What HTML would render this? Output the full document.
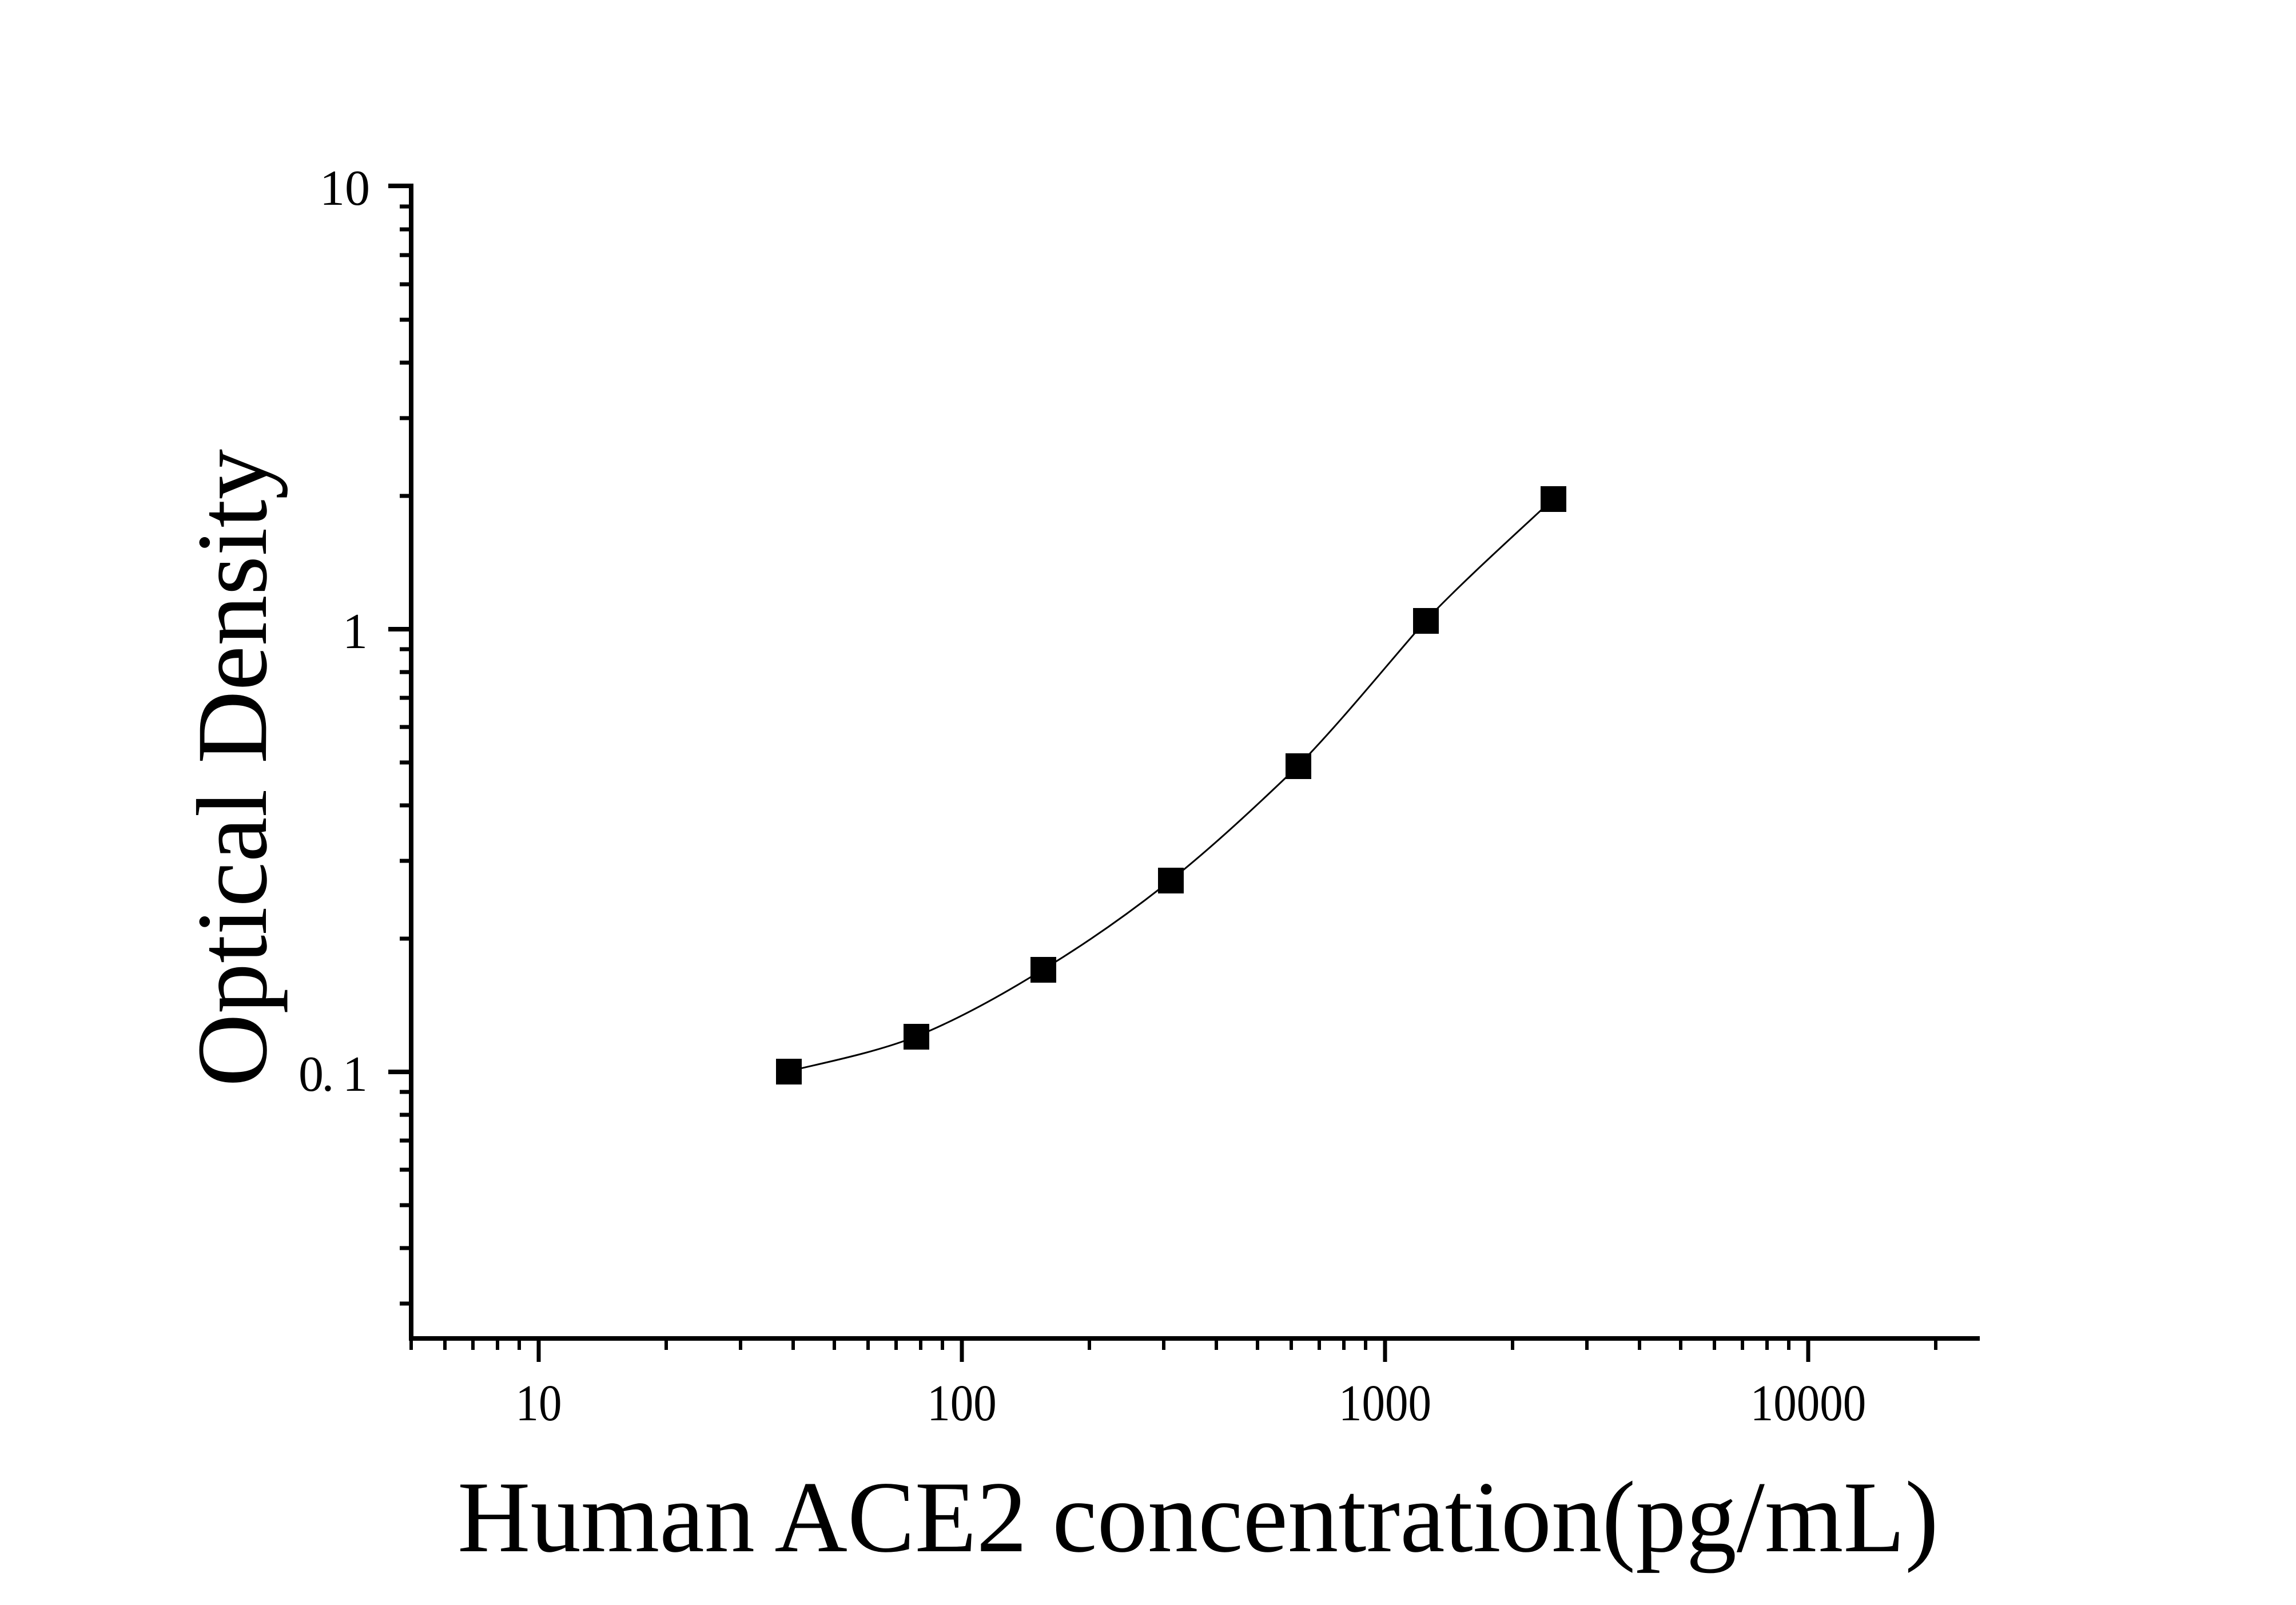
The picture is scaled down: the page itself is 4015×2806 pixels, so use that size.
<!DOCTYPE html>
<html><head><meta charset="utf-8"><style>html,body{margin:0;padding:0;background:#fff}svg{display:block}</style></head>
<body>
<svg width="4015" height="2806" viewBox="0 0 4015 2806" xmlns="http://www.w3.org/2000/svg">
<rect width="4015" height="2806" fill="#fff"/>
<g stroke="#000" fill="none">
<line x1="719" y1="321" x2="719" y2="2344" stroke-width="8"/>
<line x1="715" y1="2340" x2="3462" y2="2340" stroke-width="8"/>
<path stroke-width="8" d="M679 325H719M679 1100H719M679 1874H719"/>
<path stroke-width="7" d="M699 867H719M699 731H719M699 634H719M699 559H719M699 497H719M699 446H719M699 401H719M699 361H719
M699 1641H719M699 1505H719M699 1408H719M699 1333H719M699 1271H719M699 1220H719M699 1175H719M699 1135H719
M699 2279H719M699 2182H719M699 2107H719M699 2045H719M699 1994H719M699 1949H719M699 1909H719"/>
<path stroke-width="7" d="M942 2340V2381M1682 2340V2381M2422 2340V2381M3162 2340V2381"/>
<path stroke-width="6" d="M719 2340V2360M778 2340V2360M827 2340V2360M870 2340V2360M908 2340V2360
M1165 2340V2360M1295 2340V2360M1387 2340V2360M1459 2340V2360M1518 2340V2360M1567 2340V2360M1610 2340V2360M1648 2340V2360
M1905 2340V2360M2035 2340V2360M2127 2340V2360M2199 2340V2360M2258 2340V2360M2307 2340V2360M2350 2340V2360M2388 2340V2360
M2645 2340V2360M2775 2340V2360M2867 2340V2360M2939 2340V2360M2998 2340V2360M3047 2340V2360M3090 2340V2360M3128 2340V2360
M3385 2340V2360"/>
<path stroke-width="3" d="M1379 1873C1416 1863 1528 1842 1602 1812C1676 1782 1750 1741 1824 1695C1898 1650 1973 1598 2047 1539C2121 1480 2196 1410 2270 1339C2344 1263 2419 1170 2493 1085C2567 1007 2679 908 2716 872"/>
</g>
<g fill="#000">
<rect x="1357" y="1851" width="45" height="45"/>
<rect x="1580" y="1790" width="45" height="45"/>
<rect x="1802" y="1673" width="45" height="45"/>
<rect x="2025" y="1517" width="45" height="45"/>
<rect x="2248" y="1317" width="45" height="45"/>
<rect x="2471" y="1063" width="45" height="45"/>
<rect x="2694" y="850" width="45" height="45"/>
</g>
<g font-family="Liberation Serif, serif" font-size="88" fill="#000">
<text x="647" y="358" text-anchor="end">10</text>
<text x="643" y="1133" text-anchor="end">1</text>
<text x="522" y="1907" textLength="121" lengthAdjust="spacing">0. 1</text>
</g>
<g font-family="Liberation Serif, serif" font-size="90" fill="#000" text-anchor="middle">
<text transform="translate(942 2483) scale(0.9 1)">10</text>
<text transform="translate(1682 2483) scale(0.9 1)">100</text>
<text transform="translate(2422 2483) scale(0.9 1)">1000</text>
<text transform="translate(3162 2483) scale(0.9 1)">10000</text>
</g>
<text x="800" y="2712" font-family="Liberation Serif, serif" font-size="178" textLength="2590" lengthAdjust="spacingAndGlyphs" fill="#000">Human ACE2 concentration(pg/mL)</text>
<text transform="translate(465 1900) rotate(-90)" font-family="Liberation Serif, serif" font-size="176" textLength="1115" lengthAdjust="spacingAndGlyphs" fill="#000">Optical Density</text>
</svg>
</body></html>
